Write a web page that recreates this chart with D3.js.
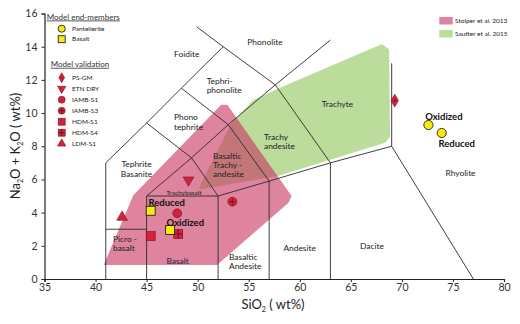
<!DOCTYPE html>
<html>
<head>
<meta charset="utf-8">
<script src="https://cdn.jsdelivr.net/npm/d3@7"></script>
<style>
  body { margin: 0; background: #fff; }
  text { font-family: Lato, "Open Sans", sans-serif; fill: #222; }
</style>
</head>
<body>
<svg id="chart" width="520" height="324"></svg>
<script>
// ---- data ----
// TAS boundary lines (SiO2, Na2O+K2O)
const tasLines = [
  [[41, 0], [41, 7], [45, 9.4], [48.4, 11.5], [52.5, 14]],
  [[41, 3], [45, 3]],
  [[45, 0], [45, 5], [52, 5], [52, 0]],
  [[45, 5], [49.4, 7.3], [52, 5]],
  [[52, 5], [57, 5.9], [63, 7], [69, 8], [77, 0]],
  [[57, 0], [57, 5.9]],
  [[63, 0], [63, 7]],
  [[69, 8], [69, 13]],
  [[45, 9.4], [49.4, 7.3], [53, 9.3], [57.6, 11.7], [63, 14.4]],
  [[48.4, 11.5], [53, 9.3], [57, 5.9]],
  [[49.9, 15.2], [52.5, 14], [57.6, 11.7], [63, 7]]
];

// fields of previous studies
const stolperField = [[40.8, 0.85], [43.7, 5.05], [52.3, 10.5], [52.9, 10.5], [59.2, 5.0], [58.9, 4.6], [51.9, 0.85]];
const sautterField = [[50.3, 5.5], [53.4, 9.3], [55.5, 10.7], [57.6, 11.3], [68.0, 14.05], [68.6, 13.8], [68.7, 8.6], [68.3, 8.3], [57.8, 6.3]];

const regionNames = ["Foidite", "Phonolite", "Tephri-\nphonolite", "Phono\ntephrite", "Trachyte",
  "Trachy\nandesite", "Basaltic\nTrachy -\nandesite", "Tephrite\nBasanite", "Trachybasalt",
  "Picro -\nbasalt", "Basalt", "Basaltic\nAndesite", "Andesite", "Dacite", "Rhyolite"];
const regionSiO2 = [48.93, 56.59, 50.88, 47.68, 63.69, 56.5, 51.5, 44.01, 48.66, 41.71, 48.03, 53.07, 59.99, 67.07, 75.74];
const regionAlk = [13.54, 14.3, 11.93, 9.74, 10.55, 8.58, 7.43, 6.91, 5.22, 2.41, 1.1, 1.34, 1.89, 1.99, 6.37];

// model end-members
const endNames = ["Pantellerite", "Pantellerite", "Basalt", "Basalt"];
const endStates = ["Oxidized", "Reduced", "Reduced", "Oxidized"];
const endSiO2 = [72.6, 73.9, 45.4, 47.3];
const endAlk = [9.28, 8.8, 4.11, 2.95];

// model validation samples
const valNames = ["PS-GM", "ETN DRY", "IAMB-S1", "IAMB-S3", "HDM-S1", "HDM-S4", "LDM-S1"];
const valSiO2 = [69.3, 49.1, 48.0, 53.4, 45.4, 48.1, 42.6];
const valAlk = [10.75, 5.96, 3.96, 4.66, 2.59, 2.71, 3.72];

const xTicks = [35, 40, 45, 50, 55, 60, 65, 70, 75, 80];
const yTicks = [0, 2, 4, 6, 8, 10, 12, 14, 16];

// ---- drawing ----
const svg = d3.select("#chart");
const x = d3.scaleLinear().domain([35, 80]).range([44.5, 504]);
const y = d3.scaleLinear().domain([0, 16]).range([279, 13.5]);

const RED = "#d3213d", REDSTROKE = "#7d1222", YELLOW = "#f7ea12";
const line = d3.line().x(d => x(d[0])).y(d => y(d[1]));

// fields
svg.append("path")
  .attr("d", line.curve(d3.curveLinearClosed)(sautterField))
  .attr("fill", "#bcdc9c")
  .attr("stroke", "#bcdc9c")
  .attr("stroke-width", 3)
  .attr("stroke-linejoin", "round");
svg.append("path")
  .attr("d", line.curve(d3.curveLinearClosed)(stolperField))
  .attr("fill", "#c8325f")
  .attr("fill-opacity", 0.6)
  .attr("stroke", "none");

// TAS boundaries
line.curve(d3.curveLinear);
svg.append("g").selectAll("path")
  .data(tasLines)
  .enter()
  .append("path")
  .attr("d", line)
  .attr("fill", "none")
  .attr("stroke", "#2a2a2a")
  .attr("stroke-width", 0.9);

// region labels
const labels = svg.append("g");
const leftAligned = ["Tephri-\nphonolite", "Phono\ntephrite", "Trachy\nandesite", "Basaltic\nTrachy -\nandesite",
  "Picro -\nbasalt", "Basaltic\nAndesite"];
regionNames.forEach((name, i) => {
  const rows = name.split("\n");
  const small = name === "Trachybasalt";
  const t = labels.append("text")
    .attr("x", x(regionSiO2[i]))
    .attr("y", y(regionAlk[i]))
    .attr("text-anchor", leftAligned.includes(name) ? "start" : "middle")
    .style("font-size", small ? "6.5px" : "8.4px");
  rows.forEach((r, j) => {
    t.append("tspan")
      .attr("x", x(regionSiO2[i]))
      .attr("dy", j === 0 ? "0.35em" : "1.12em")
      .text(r);
  });
});

// axes
const xAxis = svg.append("g")
  .attr("transform", "translate(0,279)")
  .call(d3.axisBottom(x).tickValues(xTicks).tickSize(3).tickPadding(2));
const yAxis = svg.append("g")
  .attr("transform", "translate(44.5,0)")
  .call(d3.axisLeft(y).tickValues(yTicks).tickSize(3).tickPadding(4));
[xAxis, yAxis].forEach(a => {
  a.select(".domain").attr("stroke", "#222").attr("stroke-width", 1.2);
  a.selectAll(".tick line").attr("stroke", "#222");
  a.selectAll("text").style("font-size", "10.5px").style("fill", "#333").style("font-family", "Lato, sans-serif");
});

svg.append("text")
  .attr("x", 273).attr("y", 309)
  .attr("text-anchor", "middle")
  .style("font-size", "13px")
  .html('SiO<tspan dy="3" style="font-size:7px">2</tspan><tspan dy="-3"> ( wt%)</tspan>');

svg.append("text")
  .attr("transform", "translate(20,146) rotate(-90)")
  .attr("text-anchor", "middle")
  .style("font-size", "13px")
  .html('Na<tspan dy="3" style="font-size:7px">2</tspan><tspan dy="-3">O + K</tspan><tspan dy="3" style="font-size:7px">2</tspan><tspan dy="-3">O ( wt%)</tspan>');

// marker helpers
function marker(g, name, size) {
  const s = size || 1;
  if (name === "PS-GM") {
    g.append("path").attr("d", d3.symbol(d3.symbolDiamond, 48 * s)())
      .attr("fill", RED).attr("stroke", REDSTROKE).attr("stroke-width", 0.6);
    g.append("circle").attr("r", 1.4 * s).attr("fill", "#9b1428");
  } else if (name === "ETN DRY") {
    g.append("path").attr("d", d3.symbol(d3.symbolTriangle, 50 * s)())
      .attr("transform", "rotate(180)")
      .attr("fill", RED).attr("stroke", REDSTROKE).attr("stroke-width", 0.6);
  } else if (name === "IAMB-S1" || name === "IAMB-S3") {
    g.append("circle").attr("r", 4.5 * Math.sqrt(s))
      .attr("fill", RED).attr("stroke", REDSTROKE).attr("stroke-width", 0.6);
    if (name === "IAMB-S3") {
      const r = 3 * Math.sqrt(s);
      g.append("path").attr("d", `M${-r},0H${r}M0,${-r}V${r}`).attr("stroke", "#5a0a18").attr("stroke-width", 0.8);
    }
  } else if (name === "HDM-S1" || name === "HDM-S4") {
    const h = 4.5 * Math.sqrt(s);
    g.append("rect").attr("x", -h).attr("y", -h).attr("width", 2 * h).attr("height", 2 * h)
      .attr("fill", RED).attr("stroke", REDSTROKE).attr("stroke-width", 0.6);
    if (name === "HDM-S4") {
      g.append("path").attr("d", `M${-h},0H${h}M0,${-h}V${h}`).attr("stroke", "#5a0a18").attr("stroke-width", 0.8);
    }
  } else if (name === "LDM-S1") {
    g.append("path").attr("d", d3.symbol(d3.symbolTriangle, 50 * s)())
      .attr("fill", RED).attr("stroke", REDSTROKE).attr("stroke-width", 0.6);
  } else if (name === "Pantellerite") {
    g.append("circle").attr("r", 4.6 * Math.sqrt(s))
      .attr("fill", YELLOW).attr("stroke", "#222").attr("stroke-width", 0.9);
  } else if (name === "Basalt") {
    const h = 4.5 * Math.sqrt(s);
    g.append("rect").attr("x", -h).attr("y", -h).attr("width", 2 * h).attr("height", 2 * h)
      .attr("fill", YELLOW).attr("stroke", "#222").attr("stroke-width", 0.9);
  }
}

// validation samples
valNames.forEach((n, i) => {
  marker(svg.append("g").attr("transform", `translate(${x(valSiO2[i])},${y(valAlk[i])})`), n);
});

// end-members
const endLabelDx = [-3.3, -3.3, -2.3, -3.5];
const endLabelDy = [-8.3, 10.6, -8, -7.7];
endNames.forEach((n, i) => {
  marker(svg.append("g").attr("transform", `translate(${x(endSiO2[i])},${y(endAlk[i])})`), n);
  svg.append("text")
    .attr("x", x(endSiO2[i]) + endLabelDx[i])
    .attr("y", y(endAlk[i]) + endLabelDy[i])
    .attr("dy", "0.35em")
    .style("font-size", "9.5px")
    .style("font-weight", "bold")
    .style("fill", "#111")
    .text(endStates[i]);
});

// left legend
function legendTitle(txt, tx, ty) {
  svg.append("text").attr("x", tx).attr("y", ty).attr("dy", "0.35em")
    .style("font-size", "8px").style("text-decoration", "underline").style("fill", "#333")
    .text(txt);
}
legendTitle("Model end-members", 46.7, 16.7);
const endLegend = ["Pantellerite", "Basalt"];
endLegend.forEach((n, i) => {
  marker(svg.append("g").attr("transform", `translate(61.7,${28.7 + i * 10.5})`), n, 0.6);
  svg.append("text").attr("x", 72).attr("y", 28.7 + i * 10.5).attr("dy", "0.35em")
    .style("font-size", "6.5px").text(n);
});
legendTitle("Model validation", 50.7, 64);
valNames.forEach((n, i) => {
  marker(svg.append("g").attr("transform", `translate(61.7,${77.7 + i * 11})`), n, 0.6);
  svg.append("text").attr("x", 72).attr("y", 77.7 + i * 11).attr("dy", "0.35em")
    .style("font-size", "6.5px").text(n);
});

// right legend
const fieldNames = ["Stolper et al. 2013", "Sautter et al. 2015"];
const fieldColors = ["#e282a0", "#bcdc9c"];
fieldNames.forEach((n, i) => {
  svg.append("rect").attr("x", 439.3).attr("y", 17 + i * 13).attr("width", 13.4).attr("height", 7.5)
    .attr("fill", fieldColors[i]);
  svg.append("text").attr("x", 455).attr("y", 20.7 + i * 13).attr("dy", "0.35em")
    .style("font-size", "6.5px").text(n);
});
</script>
</body>
</html>
